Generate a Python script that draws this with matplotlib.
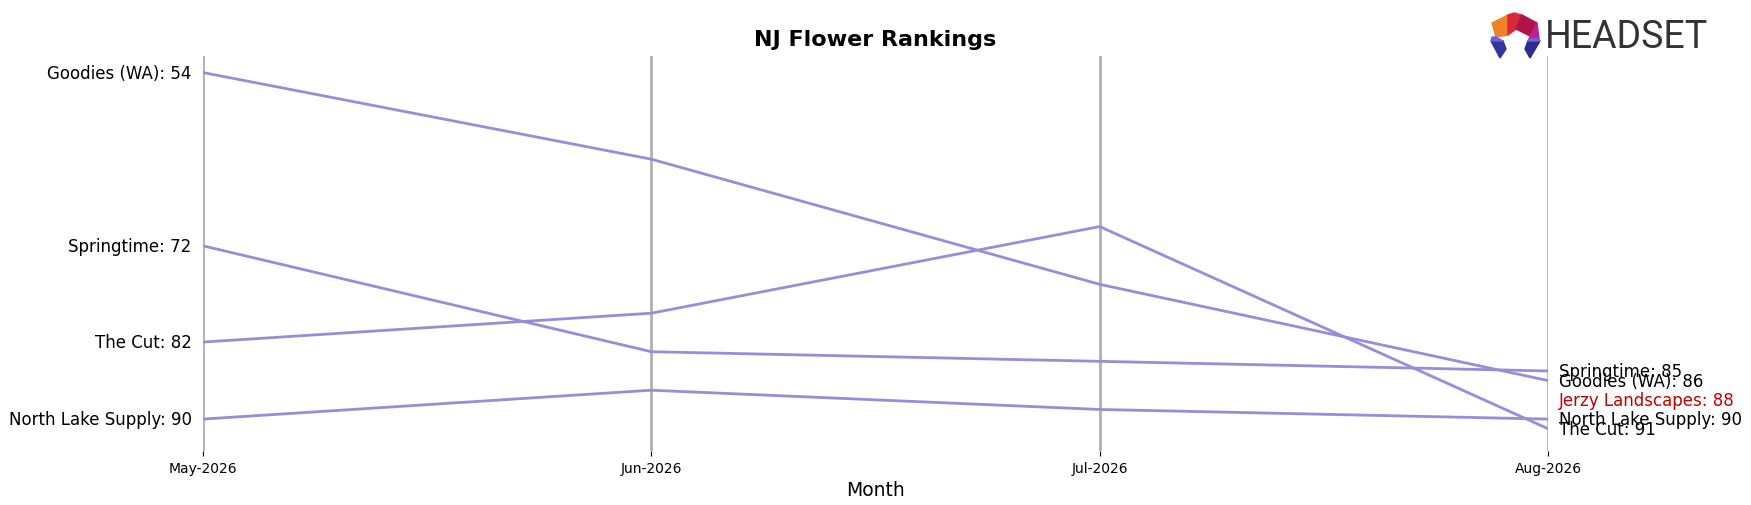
import numpy as np
import matplotlib
matplotlib.use('Agg')
import matplotlib.pyplot as plt
from matplotlib.patches import Polygon

MONTHS = ['May-2026', 'Jun-2026', 'Jul-2026', 'Aug-2026']
BRANDS = ['Goodies (WA)', 'Springtime', 'The Cut', 'North Lake Supply']
RANKS = {
    'Goodies (WA)':      [54, 63, 76, 86],
    'Springtime':        [72, 83, 84, 85],
    'The Cut':           [82, 79, 70, 91],
    'North Lake Supply': [90, 87, 89, 90],
}
HIGHLIGHT = 'Jerzy Landscapes'
HIGHLIGHT_RANK = 88

LINE_C = '#9a8bdb'

fig = plt.figure(figsize=(17.51, 5.06), dpi=100)
ax = fig.add_axes([0.1159, 0.107, 0.7682, 0.780])
x = np.arange(len(MONTHS))

for xi in x:
    ax.axvline(xi, color='#b0b0b0', lw=2, zorder=1)

for b in BRANDS:
    ax.plot(x, RANKS[b], color=LINE_C, lw=2, zorder=2)
    ax.text(-0.025, RANKS[b][0], f'{b}: {RANKS[b][0]}', ha='right', va='center', fontsize=12)
    ax.text(3.025, RANKS[b][-1], f'{b}: {RANKS[b][-1]}', ha='left', va='center', fontsize=12)
ax.text(3.025, HIGHLIGHT_RANK, f'{HIGHLIGHT}: {HIGHLIGHT_RANK}', ha='left', va='center',
        fontsize=12, color='#c00000')

ax.set_xlim(0, 3)
ax.set_ylim(93.3, 52.3)
ax.set_xticks(x)
ax.set_xticklabels(MONTHS, fontsize=10)
ax.set_yticks([])
for s in ax.spines.values():
    s.set_visible(False)
ax.set_xlabel('Month', fontsize=13.5)
ax.set_title('NJ Flower Rankings', fontsize=16, fontweight='bold', pad=8)

# logo
W, H = 1751, 506
def P(px, py):
    return (px / W, 1 - py / H)
logo = [
    ([(1492, 24), (1508, 16), (1508, 36), (1496, 38)], '#f0802a'),
    ([(1508, 16), (1514, 14), (1522, 16), (1516, 30), (1508, 36)], '#d8283c'),
    ([(1522, 16), (1537, 24), (1530, 37), (1516, 30)], '#b0124a'),
    ([(1537, 24), (1539, 40), (1529, 40), (1530, 37)], '#c0208a'),
    ([(1491, 42), (1503, 42), (1506, 50), (1500, 59)], '#34349e'),
    ([(1528, 42), (1540, 42), (1530, 59), (1525, 50)], '#2c2c90'),
    ([(1492, 38), (1496, 38), (1503, 42), (1491, 42)], '#6a60e0'),
    ([(1529, 40), (1539, 40), (1540, 42), (1528, 42)], '#6a60e0'),
]
for pts, c in logo:
    fig.patches.append(Polygon([P(*p) for p in pts], closed=True, color=c,
                               transform=fig.transFigure, figure=fig))
fig.text(1545 / W, 1 - 38 / H, 'HEADSET', fontsize=27, color='#333333',
         ha='left', va='center', family=['Roboto', 'DejaVu Sans'])

fig.savefig('out.png', dpi=100)
